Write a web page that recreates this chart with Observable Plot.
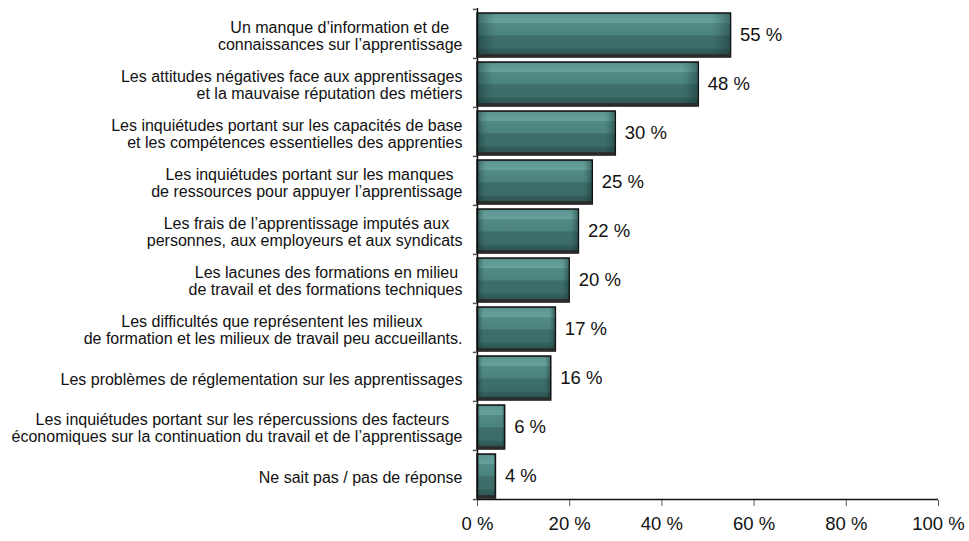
<!DOCTYPE html>
<html>
<head>
<meta charset="utf-8">
<script src="https://cdn.jsdelivr.net/npm/d3@7"></script>
<script src="https://cdn.jsdelivr.net/npm/@observablehq/plot@0.6"></script>
<style>
  html, body { margin: 0; padding: 0; background: #fff; }
  #chart { width: 969px; height: 541px; }
</style>
</head>
<body>
<div id="chart"></div>
<script>
const categories = [
  "Un manque d’information et de\u00a0\u00a0\u00a0\nconnaissances sur l’apprentissage",
  "Les attitudes négatives face aux apprentissages\net la mauvaise réputation des métiers",
  "Les inquiétudes portant sur les capacités de base\net les compétences essentielles des apprenties",
  "Les inquiétudes portant sur les manques\u00a0\u00a0\nde ressources pour appuyer l’apprentissage",
  "Les frais de l’apprentissage imputés aux\u00a0\u00a0\u00a0\npersonnes, aux employeurs et aux syndicats",
  "Les lacunes des formations en milieu\u00a0\nde travail et des formations techniques",
  "Les difficultés que représentent les milieux\u00a0\u00a0\u00a0\u00a0\u00a0\u00a0\u00a0\u00a0\u00a0\nde formation et les milieux de travail peu accueillants.",
  "Les problèmes de réglementation sur les apprentissages",
  "Les inquiétudes portant sur les répercussions des facteurs\u00a0\u00a0\u00a0\néconomiques sur la continuation du travail et de l’apprentissage",
  "Ne sait pas / pas de réponse"
];
const values = [55, 48, 30, 25, 22, 20, 17, 16, 6, 4];
const xTicks = [0, 20, 40, 60, 80, 100];

const data = categories.map((c, i) => ({category: c, value: values[i]}));

const W = 969, H = 541;
const mTop = 8, mBottom = 41, mLeft = 477, mRight = 31;
const step = (H - mTop - mBottom) / categories.length;

const plot = Plot.plot({
  width: W,
  height: H,
  marginTop: mTop,
  marginBottom: mBottom,
  marginLeft: mLeft,
  marginRight: mRight,
  style: {fontFamily: "'Liberation Sans', Arial, sans-serif", color: "#111", background: "#fff"},
  x: {domain: [0, 100], axis: null},
  y: {domain: categories, padding: 0, axis: null},
  marks: [
    // bar body with vertical bevel gradient
    Plot.barX(data, {x: "value", y: "category", insetTop: 4, insetBottom: 1,
      fill: "url(#barBody)", stroke: "#111", strokeWidth: 1.5}),
    // side bevels (horizontal shading)
    Plot.barX(data, {x: "value", y: "category", insetTop: 5, insetBottom: 2, insetLeft: 1, insetRight: 1,
      fill: "url(#barSides)"}),
    // bottom shadow line
    Plot.barX(data, {x: "value", y: "category", insetTop: step - 4, insetBottom: 1,
      fill: "#2b2b2b"}),
    // value labels
    Plot.text(data, {x: "value", y: "category", text: d => `${d.value} %`, dx: 9, dy: 1,
      textAnchor: "start", fontSize: 18.5, fill: "#111"}),
    // category labels
    Plot.text(data, {x: 0, y: "category", text: "category", dx: -15, dy: 2,
      textAnchor: "end", lineAnchor: "middle", lineHeight: 1.1, fontSize: 16, fill: "#111"}),
    // y axis line
    Plot.ruleX([0], {stroke: "#111", strokeWidth: 1.5}),
    // band-boundary ticks on the y axis
    Plot.ruleY(categories, {y: d => d, x1: -0.9, x2: 0, dy: -step / 2, stroke: "#555", strokeWidth: 1.5}),
    Plot.ruleY([categories[categories.length - 1]], {y: d => d, x1: -0.9, x2: 0, dy: step / 2, stroke: "#555", strokeWidth: 1.5}),
    // x axis line
    Plot.ruleY([categories[categories.length - 1]], {y: d => d, x1: 0, x2: 100, dy: step / 2, stroke: "#111", strokeWidth: 1.5}),
    // x axis ticks and labels
    Plot.axisX(xTicks, {tickSize: 6, tickPadding: 10, fontSize: 18.5, stroke: "#555", label: null,
      tickFormat: d => `${d} %`, fill: "#111"})
  ]
});

// gradient definitions used by the bars
const svg = d3.select(plot);
const defs = svg.insert("defs", ":first-child");
const body = defs.append("linearGradient").attr("id", "barBody")
  .attr("x1", 0).attr("y1", 0).attr("x2", 0).attr("y2", 1);
[
  [0.00, "#3d6f6b"], [0.04, "#5d9793"], [0.22, "#66a09b"], [0.24, "#518a86"],
  [0.50, "#4b827e"], [0.52, "#3d6e6b"], [0.80, "#3c6c69"], [0.82, "#335f5c"],
  [1.00, "#2c5350"]
].forEach(([o, c]) => body.append("stop").attr("offset", o).attr("stop-color", c));
const sides = defs.append("linearGradient").attr("id", "barSides")
  .attr("x1", 0).attr("y1", 0).attr("x2", 1).attr("y2", 0);
[
  [0.00, "rgba(20,50,48,0.45)"], [0.04, "rgba(20,50,48,0.15)"], [0.07, "rgba(20,50,48,0)"],
  [0.93, "rgba(20,50,48,0)"], [0.96, "rgba(20,50,48,0.15)"], [1.00, "rgba(20,50,48,0.45)"]
].forEach(([o, c]) => sides.append("stop").attr("offset", o).attr("stop-color", c));

document.getElementById("chart").appendChild(plot);
</script>
</body>
</html>
